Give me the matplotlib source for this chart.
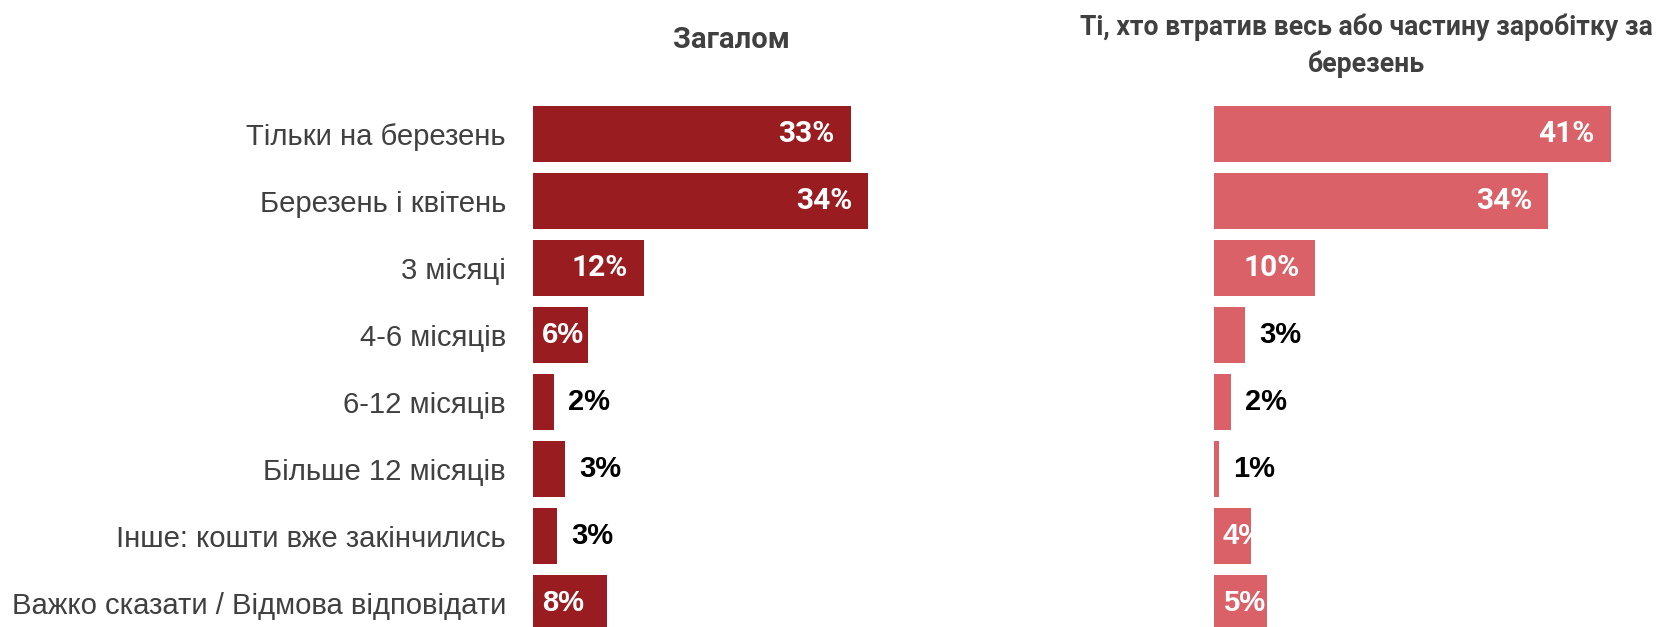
import matplotlib
matplotlib.use("Agg")
import matplotlib.pyplot as plt
import matplotlib.transforms as mtransforms

categories = ["Тільки на березень", "Березень і квітень", "3 місяці", "4-6 місяців",
              "6-12 місяців", "Більше 12 місяців", "Інше: кошти вже закінчились",
              "Важко сказати / Відмова відповідати"]
overall_values = [32.6, 34.4, 11.4, 5.6, 2.2, 3.3, 2.5, 7.6]
overall_labels = ["33%", "34%", "12%", "6%", "2%", "3%", "3%", "8%"]
lost_values = [40.7, 34.3, 10.4, 3.2, 1.7, 0.5, 3.8, 5.4]
lost_labels = ["41%", "34%", "10%", "3%", "2%", "1%", "4%", "5%"]
title_left = "Загалом"
title_right = ["Ті, хто втратив весь або частину заробітку за", "березень"]

# label placement style: 'end' = white inside end, 'start' = white inside start, 'out' = black outside
overall_modes = ["end", "end", "end", "start", "out", "out", "out", "start"]
lost_modes = ["end", "end", "end", "out", "out", "out", "start", "start"]

W, H = 1658, 627
fig = plt.figure(figsize=(W / 100, H / 100), dpi=100)

PX_PER_UNIT = 9.75
TOP, ROW0, PITCH = 100, 134, 67
y_top = (TOP - ROW0) / PITCH
y_bot = (H - ROW0) / PITCH

def make_ax(left_px, width_px):
    return fig.add_axes([left_px / W, 0, width_px / W, (H - TOP) / H])

ax1 = make_ax(533, 390)
ax2 = make_ax(1214, 440)

def draw(ax, vals, labels, modes, color, show_cats):
    ax.set_xlim(0, ax.get_position().width * W / PX_PER_UNIT)
    ax.set_ylim(y_bot, y_top)
    ys = list(range(len(vals)))
    bars = ax.barh(ys, vals, height=56 / PITCH, color=color, edgecolor="none")
    for s in ax.spines.values():
        s.set_visible(False)
    ax.set_xticks([])
    if show_cats:
        ax.set_yticks(ys)
        ax.set_yticklabels(categories, fontsize=21.1, color="#404040",
                           fontfamily="Liberation Sans")
        ax.tick_params(axis="y", length=0, pad=19.4)
    else:
        ax.set_yticks([])
    for y, v, lab, m, bar in zip(ys, vals, labels, modes, bars):
        if m == "end":
            tr = mtransforms.offset_copy(ax.transData, fig, x=-16, y=0, units="dots")
            ax.text(v, y, lab, transform=tr, ha="right", va="center", color="white",
                    fontsize=21.5, fontweight="bold", fontfamily="Roboto")
        elif m == "start":
            tr = mtransforms.offset_copy(ax.transData, fig, x=9, y=0, units="dots")
            t = ax.text(0, y, lab, transform=tr, ha="left", va="center", color="white",
                        fontsize=21, fontweight="bold", fontfamily="Liberation Sans")
            t.set_clip_path(bar)
        else:
            tr = mtransforms.offset_copy(ax.transData, fig, x=14, y=0, units="dots")
            ax.text(v, y, lab, transform=tr, ha="left", va="center", color="black",
                    fontsize=21, fontweight="bold", fontfamily="Liberation Sans")

draw(ax1, overall_values, overall_labels, overall_modes, "#991c20", True)
draw(ax2, lost_values, lost_labels, lost_modes, "#d96167", False)

fig.text(731 / W, 1 - 48 / H, title_left, ha="center", va="baseline", fontsize=21,
         fontweight="bold", fontfamily="Roboto", color="#404040")
fig.text(1366 / W, 1 - 35 / H, title_right[0], ha="center", va="baseline", fontsize=19.2,
         fontweight="bold", fontfamily="Roboto", color="#404040")
fig.text(1366 / W, 1 - 72 / H, title_right[1], ha="center", va="baseline", fontsize=19.2,
         fontweight="bold", fontfamily="Roboto", color="#404040")

fig.savefig("out.png", dpi=100, facecolor="white")
